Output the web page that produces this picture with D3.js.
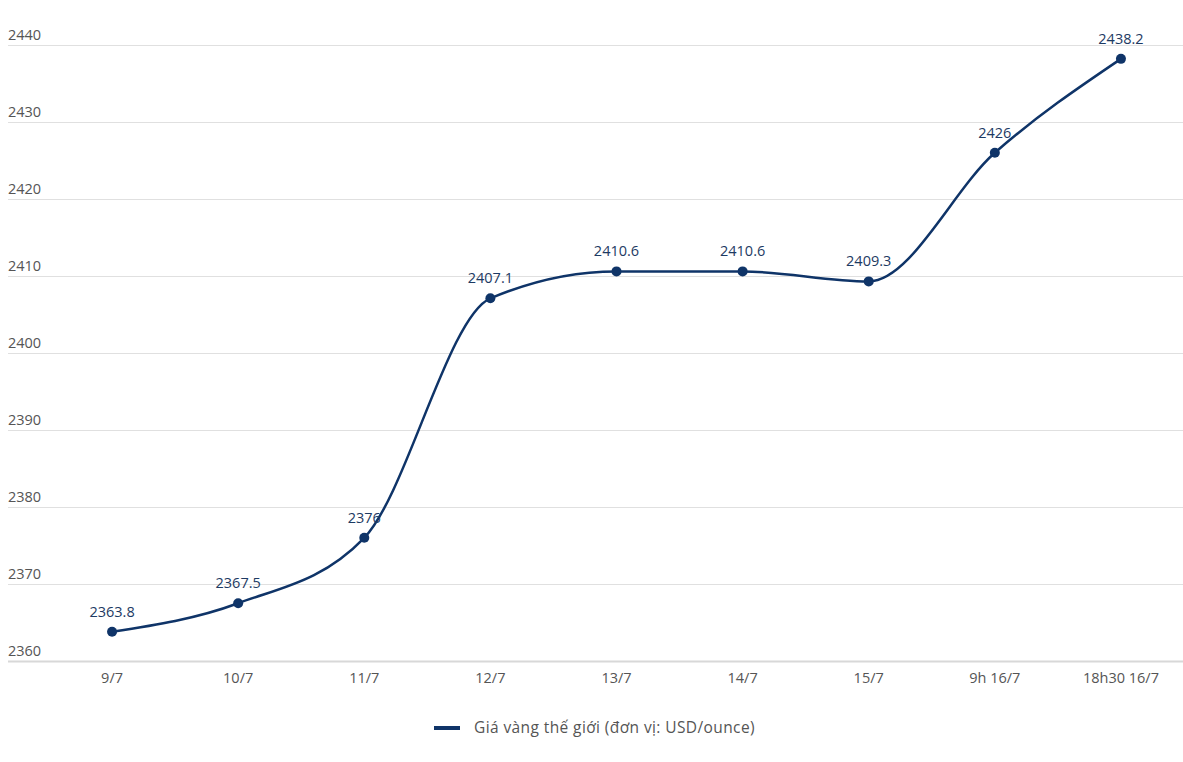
<!DOCTYPE html>
<html><head><meta charset="utf-8">
<script src="https://cdn.jsdelivr.net/npm/d3@7"></script>
<style>body{margin:0;background:#fff}svg{display:block}</style>
</head><body>
<svg id="c" width="1183" height="762"></svg>
<script>
const categories = ["9/7","10/7","11/7","12/7","13/7","14/7","15/7","9h 16/7","18h30 16/7"];
const values = [2363.8,2367.5,2376,2407.1,2410.6,2410.6,2409.3,2426,2438.2];
const labels = ["2363.8","2367.5","2376","2407.1","2410.6","2410.6","2409.3","2426","2438.2"];
const yTicks = [2360,2370,2380,2390,2400,2410,2420,2430,2440];
const seriesName = "Giá vàng thế giới (đơn vị: USD/ounce)";

const svg = d3.select("#c");
const x = d3.scalePoint().domain(categories).range([49,1184]).padding(0.5);
const y = d3.scaleLinear().domain([2360,2440]).range([661,45]);
const navy = "#0f3468";
const font = "'Open Sans', 'Noto Sans', sans-serif";

const g = svg.append("g");
g.selectAll("line.grid").data(yTicks).enter().append("line")
  .attr("x1",8).attr("x2",1183)
  .attr("y1",d=>y(d)+0.5).attr("y2",d=>y(d)+0.5)
  .attr("stroke",d=>d===2360?"#d8d8d8":"#e0e0e0").attr("stroke-width",d=>d===2360?2:1);
g.selectAll("text.yl").data(yTicks).enter().append("text")
  .attr("x",8).attr("y",d=>y(d)-5)
  .attr("font-family",font).attr("font-size",14.5).attr("fill","#555")
  .text(d=>d);
g.selectAll("text.xl").data(categories).enter().append("text")
  .attr("x",d=>x(d)).attr("y",683).attr("text-anchor","middle")
  .attr("font-family",font).attr("font-size",14.5).attr("fill","#555")
  .text(d=>d);

const data = categories.map((c,i)=>({c,v:values[i],l:labels[i]}));
const line = d3.line().x(d=>x(d.c)).y(d=>y(d.v)).curve(d3.curveMonotoneX);
g.append("path").datum(data).attr("d",line).attr("fill","none")
  .attr("stroke",navy).attr("stroke-width",2.5);
g.selectAll("circle").data(data).enter().append("circle")
  .attr("cx",d=>x(d.c)).attr("cy",d=>y(d.v)).attr("r",5).attr("fill",navy);
g.selectAll("text.dl").data(data).enter().append("text")
  .attr("x",d=>x(d.c)).attr("y",d=>y(d.v)-15).attr("text-anchor","middle")
  .attr("font-family",font).attr("font-size",14.5).attr("fill","#1d3a63")
  .text(d=>d.l);

const lg = svg.append("g");
lg.append("line").attr("x1",434).attr("x2",460).attr("y1",728).attr("y2",728)
  .attr("stroke",navy).attr("stroke-width",4);
lg.append("text").attr("x",474).attr("y",733).attr("font-family",font)
  .attr("font-size",15.5).attr("letter-spacing",0.4).attr("fill","#555").text(seriesName);
</script>
</body></html>
